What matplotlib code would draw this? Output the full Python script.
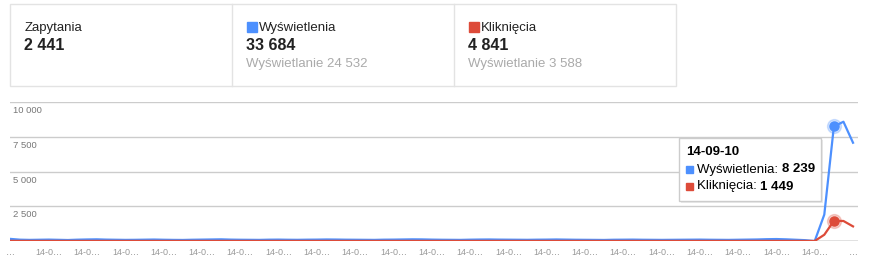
import datetime as dt
import numpy as np
import matplotlib.pyplot as plt
from matplotlib.patches import Rectangle

plt.rcParams['font.family'] = ['Liberation Sans', 'DejaVu Sans']

# summary cards
card_titles = ["Zapytania", "Wyświetlenia", "Kliknięcia"]
card_values = ["2 441", "33 684", "4 841"]
card_subs = ["", "Wyświetlanie 24 532", "Wyświetlanie 3 588"]

# daily series, 2014-06-16 .. 2014-09-12
start_date = dt.date(2014, 6, 16)
impressions = [150, 95, 80, 90, 100, 85, 70, 95, 110, 120, 100, 90, 80, 85,
               95, 105, 90, 80, 75, 90, 100, 110, 120, 100, 90, 85, 80, 95,
               100, 90, 85, 95, 100, 110, 105, 95, 90, 85, 80, 95, 100, 110,
               120, 115, 100, 90, 85, 80, 95, 105, 110, 100, 95, 90, 85, 95,
               100, 110, 100, 90, 85, 80, 75, 90, 95, 100, 90, 85, 80, 85,
               90, 95, 100, 90, 85, 80, 90, 100, 110, 130, 140, 120, 90, 60,
               0, 1900, 8239, 8580, 7070]
clicks = [10, 6, 5, 5, 6, 5, 4, 5, 6, 7, 6, 5, 4, 5,
          5, 6, 5, 4, 4, 5, 6, 6, 7, 6, 5, 5, 4, 5,
          6, 5, 5, 5, 6, 6, 6, 5, 5, 5, 4, 5, 6, 6,
          7, 6, 6, 5, 5, 4, 5, 6, 6, 6, 5, 5, 5, 5,
          6, 6, 6, 5, 5, 4, 4, 5, 5, 6, 5, 5, 4, 5,
          5, 5, 6, 5, 5, 4, 5, 6, 6, 7, 7, 6, 5, 3,
          0, 450, 1449, 1440, 1050]
y_ticks = [2500, 5000, 7500, 10000]
y_tick_labels = ["2 500", "5 000", "7 500", "10 000"]
hover_idx = 86

BLUE = "#4d90fe"
RED = "#dd4b39"

W, H = 874, 268
fig = plt.figure(figsize=(W / 100, H / 100), dpi=100)

n = len(impressions)
x = np.arange(n)
dates = [start_date + dt.timedelta(days=i) for i in range(n)]

# chart axes: baseline at y=241px, top gridline at y=102px
ax = fig.add_axes([10 / W, (H - 241) / H, 848 / W, 139 / H])
ax.set_xlim(-0.05, 88.52)
ax.set_ylim(0, 10000)
for s in ax.spines.values():
    s.set_visible(False)
ax.set_xticks([])
ax.set_yticks([])
for t in y_ticks:
    ax.axhline(t, color="#cccccc", lw=1, zorder=1)
ax.axhline(0, color="#666666", lw=1, zorder=1)
for t, lab in zip(y_ticks, y_tick_labels):
    ax.annotate(lab, (0, t), xycoords=("axes fraction", "data"),
                xytext=(2, -3), textcoords="offset points",
                ha="left", va="top", fontsize=6.8, color="#777777")

ax.plot(x, impressions, color=BLUE, lw=1.6, zorder=3, solid_joinstyle="round")
ax.plot(x, clicks, color=RED, lw=1.6, zorder=4, solid_joinstyle="round")

# hover markers
for ser, col in ((impressions, BLUE), (clicks, RED)):
    ax.plot(hover_idx, ser[hover_idx], "o", ms=10, color=col, alpha=0.25, zorder=5)
    ax.plot(hover_idx, ser[hover_idx], "o", ms=6.5, color=col, zorder=6)

# x labels every 4th day, truncated
for i in range(0, n, 4):
    lab = "…" if i in (0, n - 1) else dates[i].strftime("%y-%m-%d")[:4] + "…"
    ax.annotate(lab, (i, 0), xycoords="data", xytext=(0, -5),
                textcoords="offset points", ha="center", va="top",
                fontsize=6.5, color="#999999", annotation_clip=False)

# overlay in pixel coordinates for cards and tooltip
ov = fig.add_axes([0, 0, 1, 1], facecolor="none")
ov.set_xlim(0, W)
ov.set_ylim(H, 0)
ov.axis("off")

ov.add_patch(Rectangle((9.5, 3.5), 666, 82.5, fill=False, ec="#e3e3e3", lw=1))
edges = [9.5, 231.5, 453.5]
for e in edges[1:]:
    ov.plot([e, e], [3.5, 86], color="#e3e3e3", lw=1)
square_cols = [None, BLUE, RED]
for e, title, val, sub, sc in zip(edges, card_titles, card_values, card_subs, square_cols):
    tx = e + 15
    if sc is not None:
        ov.add_patch(Rectangle((tx, 22), 10, 10, color=sc))
        tx += 12
    ov.text(tx, 27.5, title, fontsize=9.5, color="#222222", va="center", ha="left")
    ov.text(e + 15, 45.5, val, fontsize=11.5, fontweight="bold", color="#222222",
            va="center", ha="left")
    if sub:
        ov.text(e + 15, 63.5, sub, fontsize=9.5, color="#aaaaaa", va="center", ha="left")

# tooltip
ov.add_patch(Rectangle((681, 140), 142, 63, color="#000000", alpha=0.08, lw=0))
ov.add_patch(Rectangle((679, 138), 142, 63, fc="white", ec="#cccccc", lw=1))
ov.text(686, 152, dates[hover_idx].strftime("%y-%m-%d"), fontsize=9.5,
        fontweight="bold", color="#000000", va="center")
rows = [("Wyświetlenia: ", impressions[hover_idx], BLUE),
        ("Kliknięcia: ", clicks[hover_idx], RED)]
for k, (name, v, col) in enumerate(rows):
    yy = 169.5 + 17 * k
    ov.add_patch(Rectangle((686, yy - 3.5), 7, 7, color=col))
    t = ov.text(697, yy, name, fontsize=9.5, color="#000000", va="center")
    ov.annotate(f"{v:,}".replace(",", " "), (1, 0.5), xycoords=t,
                fontsize=9.5, fontweight="bold", color="#000000",
                va="center", ha="left")

fig.savefig("out.png", dpi=100)
